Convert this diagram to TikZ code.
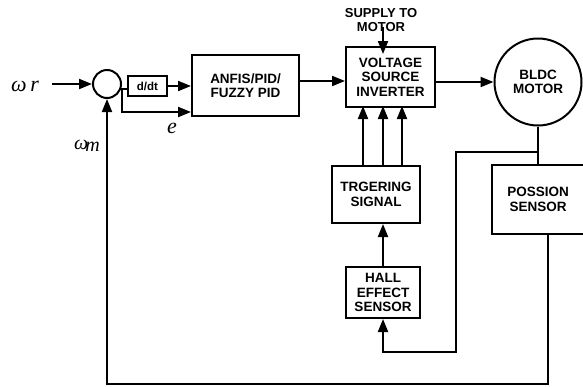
\documentclass[tikz,border=0pt]{standalone}
\usepackage{fontspec}
\setmainfont{Liberation Sans}
\newfontfamily\timesfont{Liberation Serif}
\usetikzlibrary{arrows.meta}

\tikzset{
  blk/.style={draw, line width=2pt, align=center, inner sep=0pt,
    font=\bfseries\fontsize{13.5}{14.5}\selectfont},
  lbl/.style={align=center, inner sep=0pt,
    font=\bfseries\fontsize{13}{14}\selectfont},
  sym/.style={inner sep=0pt, font=\timesfont\itshape\fontsize{22}{22}\selectfont},
  wire/.style={line width=2pt},
  arr/.style={line width=2pt, -{Triangle[length=13pt,width=10pt]}}
}

\begin{document}
\begin{tikzpicture}[x=1pt, y=-1pt]
  \useasboundingbox (0,0) rectangle (583,386);
  \clip (0,0) rectangle (583,386);
  % blocks
  \node[blk, circle, minimum size=28pt] (sum) at (107,84) {};
  \node[blk, minimum width=39pt, minimum height=20pt,
    font=\bfseries\fontsize{11.5}{12}\selectfont] (ddt) at (147.5,86) {d/dt};
  \node[blk, minimum width=107pt, minimum height=61pt] (anfis) at (245.5,85.5) {ANFIS/PID/\\FUZZY PID};
  \node[blk, minimum width=89pt, minimum height=60pt] (vsi) at (390.5,77) {VOLTAGE\\SOURCE\\INVERTER};
  \node[blk, circle, minimum size=87pt] (motor) at (538,82) {BLDC\\MOTOR};
  \node[blk, minimum width=88pt, minimum height=57pt] (trig) at (376,194.5) {TRGERING\\SIGNAL};
  \node[blk, minimum width=74pt, minimum height=51pt] (hall) at (383,292.5) {HALL\\EFFECT\\SENSOR};
  \node[blk, minimum width=92pt, minimum height=69pt] (pos) at (538,199.5) {POSSION\\SENSOR};
  % labels
  \node[lbl] (supply) at (381,20) {SUPPLY TO\\MOTOR};
  \node[sym] (wr) at (25,86) {ω\,r};
  \node[sym] (err) at (172,128) {e};
  \node[sym, font=\timesfont\itshape\fontsize{20}{20}\selectfont] (wm) at (87,146) {ω\kern-3pt\raisebox{-2pt}{m}};
  \coordinate (wrin) at (52,84);
  \coordinate (sup) at (383,27);
  \coordinate (j1) at (538,152);
  \coordinate (hl) at (456,352);
  \coordinate (fbr) at (548,384);
  % connections
  \draw[arr] (wrin) -- (sum.west);
  \draw[wire] (sum.-20) -- (ddt.west |- sum.-20);
  \draw[arr] (ddt.east) -- (anfis.west |- ddt.east);
  \draw[arr] (sum.-20) -- ++(1,0) |- ([yshift=-26.5pt]anfis.west);
  \draw[arr] ([yshift=4.5pt]anfis.east) -- ([yshift=-4pt]vsi.west);
  \draw[arr] ([yshift=-5pt]vsi.east) -- (motor.west);
  \draw[arr] (sup) -- ([xshift=-7.5pt,yshift=-8pt]vsi.north);
  \foreach \dx in {-13,7,26}
    \draw[arr] ([xshift=\dx pt]trig.north) -- ++(0,-59);
  \draw[arr] (hall.north) -- (trig.south -| hall.north);
  \draw[wire] (motor.south) -- (pos.north);
  \draw[arr] (j1) -| (hl) -| (hall.south);
  \draw[arr] ([xshift=10pt]pos.south) -- (fbr) -| (sum.south);
\end{tikzpicture}
\end{document}
